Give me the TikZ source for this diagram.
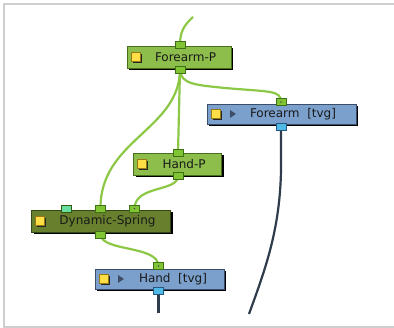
\documentclass[tikz,border=0pt]{standalone}
\usepackage{fontspec}
\setmainfont{DejaVu Sans}
\usetikzlibrary{positioning,shadows}

\definecolor{pegfill}{RGB}{141,190,76}
\definecolor{pegline}{RGB}{72,110,32}
\definecolor{springfill}{RGB}{104,128,46}
\definecolor{springline}{RGB}{52,70,20}
\definecolor{drawfill}{RGB}{124,160,204}
\definecolor{drawline}{RGB}{58,78,108}
\definecolor{portgreen}{RGB}{128,196,52}
\definecolor{portgreenline}{RGB}{62,112,22}
\definecolor{portmint}{RGB}{104,222,160}
\definecolor{portcyan}{RGB}{80,186,230}
\definecolor{portcyanline}{RGB}{36,88,128}
\definecolor{linkgreen}{RGB}{140,200,70}
\definecolor{linkdark}{RGB}{46,60,76}
\definecolor{iconfill}{RGB}{255,222,70}
\definecolor{iconline}{RGB}{150,120,20}
\definecolor{playgray}{RGB}{62,78,104}
\definecolor{framegray}{RGB}{206,206,206}

\begin{document}
\begin{tikzpicture}[x=1pt,y=-1pt,
  every node/.style={inner sep=0pt, outer sep=0pt},
  module/.style={draw, line width=0.9pt,
    drop shadow={shadow xshift=2.2pt, shadow yshift=-2.2pt, opacity=1, fill=black}},
  pegbox/.style={module, fill=pegfill, draw=pegline, minimum height=22pt},
  springbox/.style={module, fill=springfill, draw=springline, minimum height=22pt},
  drawbox/.style={module, fill=drawfill, draw=drawline, minimum height=20pt},
  icon/.style={draw=iconline, fill=iconfill, line width=0.5pt, minimum size=9pt,
    drop shadow={shadow xshift=1.5pt, shadow yshift=-1.5pt, opacity=1, fill=black!85}},
  label/.style={font=\fontsize{12}{14}\selectfont, text=black!90},
  port/.style={draw=portgreenline, fill=portgreen, line width=0.6pt,
    minimum width=10pt, minimum height=7pt},
  dotport/.style={port, path picture={\fill[black!70] (path picture bounding box.center) circle (0.9pt);}},
  mintport/.style={port, fill=portmint, draw=portgreenline!80!black},
  cyanport/.style={port, fill=portcyan, draw=portcyanline},
  playtri/.style={fill=playgray},
  link/.style={draw=linkgreen, line width=2.2pt},
  wire/.style={draw=linkdark, line width=2.2pt}]

  \useasboundingbox (0,0) rectangle (394,328);
  \draw[framegray, line width=2pt] (394,4) -- (4,4) -- (4,327) -- (394,327);

  % modules
  \node[pegbox, minimum width=104pt] (forearmP) at (179,57) {};
  \node[icon, right=4pt of forearmP.west] (fpIcon) {};
  \node[label, right=28pt of forearmP.west] (fpText) {Forearm-P};

  \node[drawbox, minimum width=149pt] (forearmT) at (281.5,114) {};
  \node[icon, right=4pt of forearmT.west] (ftIcon) {};
  \coordinate[right=23pt of forearmT.west] (ftPlay);
  \fill[playtri] (ftPlay) ++(0,-4) -- ++(6,4) -- ++(-6,4) -- cycle;
  \node[label, right=43pt of forearmT.west] (ftText) {Forearm\ \ [tvg]};

  \node[pegbox, minimum width=88pt] (handP) at (177.5,164) {};
  \node[icon, right=4pt of handP.west] (hpIcon) {};
  \node[label, right=29pt of handP.west] (hpText) {Hand-P};

  \node[springbox, minimum width=139pt] (spring) at (101,221) {};
  \node[icon, right=4pt of spring.west] (dsIcon) {};
  \node[label, right=28pt of spring.west] (dsText) {Dynamic-Spring};

  \node[drawbox, minimum width=129pt] (handT) at (159.5,279) {};
  \node[icon, right=4pt of handT.west] (htIcon) {};
  \coordinate[right=23pt of handT.west] (htPlay);
  \fill[playtri] (htPlay) ++(0,-4) -- ++(6,4) -- ++(-6,4) -- cycle;
  \node[label, right=44pt of handT.west] (htText) {Hand\ \ [tvg]};

  % port positions
  \coordinate (fpInC) at (180,45);
  \coordinate (fpOutC) at (180,70);
  \coordinate (ftInC) at (281,102);
  \coordinate (ftOutC) at (281,126.5);
  \coordinate (hpInC) at (178,152.5);
  \coordinate (hpOutC) at (178,176);
  \coordinate (dsMidC) at (100.5,208.5);
  \coordinate (dsRightC) at (134.5,208.5);
  \coordinate (dsOutC) at (100.5,234.5);
  \coordinate (htInC) at (158.5,266);
  \coordinate (htOutC) at (158.5,291);

  \coordinate (topEnd) at (193,17);
  \coordinate (ftEnd) at (249,314);
  \coordinate (htEnd) at (158.5,313);

  % connectors
  \draw[link] (topEnd) .. controls (183,26) and (180,33) .. (fpInC);
  \draw[link] (fpOutC) .. controls (181,84) and (195,85) .. (225,88)
    .. controls (270,92) and (281,90) .. (ftInC);
  \draw[link] (fpOutC) -- (hpInC);
  \draw[link] (fpOutC) .. controls (179,130) and (100,140) .. (dsMidC);
  \draw[link] (hpOutC) .. controls (178,192) and (135,185) .. (dsRightC);
  \draw[link] (dsOutC) .. controls (102,252) and (158,245) .. (htInC);
  \draw[wire] (ftOutC) -- (281,170) .. controls (280,230) and (265,270) .. (ftEnd);
  \draw[wire] (htOutC) -- (htEnd);

  % ports
  \node[port] (fpIn) at (fpInC) {};
  \node[port] (fpOut) at (fpOutC) {};
  \node[dotport] (ftIn) at (ftInC) {};
  \node[cyanport] (ftOut) at (ftOutC) {};
  \node[port] (hpIn) at (hpInC) {};
  \node[port] (hpOut) at (hpOutC) {};
  \node[mintport] (dsExtra) at (66,208.5) {};
  \node[port] (dsMid) at (dsMidC) {};
  \node[dotport] (dsRight) at (dsRightC) {};
  \node[port] (dsOut) at (dsOutC) {};
  \node[dotport] (htIn) at (htInC) {};
  \node[cyanport] (htOut) at (htOutC) {};
\end{tikzpicture}
\end{document}
